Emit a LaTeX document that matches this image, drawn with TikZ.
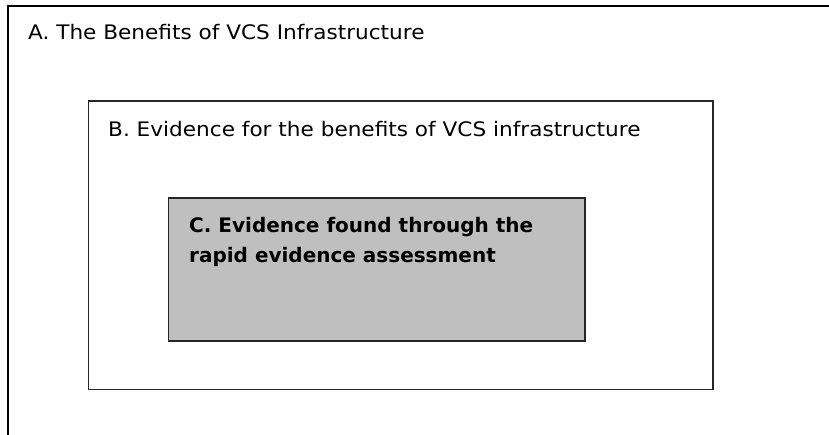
\documentclass[tikz,border=0pt]{standalone}
\usepackage{fontspec}
\setmainfont{DejaVu Sans}
\newfontfamily\regfont[FakeStretch=1.08]{DejaVu Sans}
\tikzset{
  txt/.style={anchor=base west, inner sep=0pt, font=\regfont\fontsize{20}{30}\selectfont},
  boxB/.style={draw=black!85, line width=1.6pt},
  boxC/.style={draw=black!85, line width=1.6pt, fill=black!25},
}
\begin{document}
\begin{tikzpicture}[x=1pt,y=1pt]
\useasboundingbox (0,0) rectangle (829,435);
% outer box A (clipped by the page)
\coordinate (a1) at (8,0);
\coordinate (a2) at (8,428.5);
\coordinate (a3) at (829,428.5);
\draw[line width=2pt] (a1) -- (a2) -- (a3);
\node[txt] (ta) at (28,395.5) {A. The Benefits of VCS Infrastructure};
% box B
\node[boxB, minimum width=624.5pt, minimum height=288.5pt, anchor=south west] (B) at (87.5,44.5) {};
\node[txt] (tb) at (108,298.3) {B. Evidence for the benefits of VCS infrastructure};
% box C
\node[boxC, minimum width=416.5pt, minimum height=143pt, anchor=south west] (C) at (167.5,93) {};
\node[txt, font=\fontsize{20}{30}\selectfont\bfseries, align=left] (tc) at (189,172) {C. Evidence found through the\\rapid evidence assessment};
\end{tikzpicture}
\end{document}
